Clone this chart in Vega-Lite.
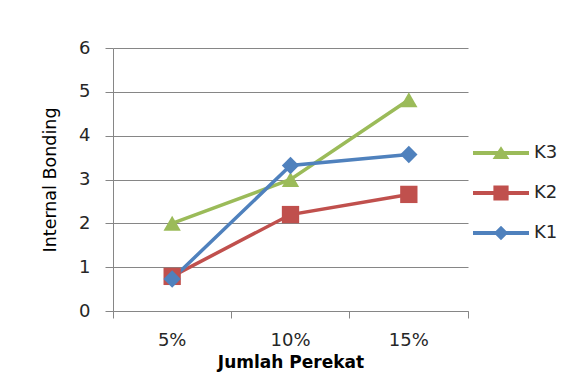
{
  "$schema": "https://vega.github.io/schema/vega-lite/v6.json",
  "width": 355,
  "height": 263,
  "autosize": {"type": "none"},
  "padding": {"left": 113, "top": 48, "right": 112, "bottom": 67},
  "background": "white",
  "config": {
    "view": {"stroke": null},
    "font": "DejaVu Sans",
    "axis": {
      "domainColor": "#868686",
      "tickColor": "#868686",
      "gridColor": "#868686",
      "labelColor": "#262626",
      "titleColor": "#000000",
      "labelFont": "DejaVu Sans",
      "titleFont": "DejaVu Sans"
    }
  },
  "data": {
    "values": [
      {"perekat": "5%", "seri": "K3", "ib": 2.0},
      {"perekat": "10%", "seri": "K3", "ib": 3.0},
      {"perekat": "15%", "seri": "K3", "ib": 4.82},
      {"perekat": "5%", "seri": "K2", "ib": 0.79},
      {"perekat": "10%", "seri": "K2", "ib": 2.2},
      {"perekat": "15%", "seri": "K2", "ib": 2.66},
      {"perekat": "5%", "seri": "K1", "ib": 0.73},
      {"perekat": "10%", "seri": "K1", "ib": 3.32},
      {"perekat": "15%", "seri": "K1", "ib": 3.57}
    ]
  },
  "encoding": {
    "x": {
      "field": "perekat",
      "type": "nominal",
      "sort": ["5%", "10%", "15%"],
      "bandPosition": 0.5,
      "scale": {"type": "band", "paddingInner": 0, "paddingOuter": 0}
    },
    "y": {
      "field": "ib",
      "type": "quantitative",
      "scale": {"domain": [0, 6], "nice": false, "zero": true},
      "axis": {
        "values": [0, 1, 2, 3, 4, 5, 6],
        "grid": true,
        "gridWidth": 1,
        "tickSize": 8,
        "labelPadding": 15,
        "labelFontSize": 18,
        "title": "Internal Bonding",
        "titleFontSize": 17.5,
        "titleFontWeight": "normal",
        "titlePadding": 19
      }
    },
    "color": {
      "field": "seri",
      "type": "nominal",
      "scale": {"domain": ["K3", "K2", "K1"], "range": ["#9BBB59", "#C0504D", "#4F81BD"]},
      "legend": null
    }
  },
  "layer": [
    {
      "mark": {"type": "line", "strokeWidth": 3.5},
      "encoding": {
        "x": {
          "field": "perekat",
          "type": "nominal",
          "sort": ["5%", "10%", "15%"],
          "bandPosition": 0.5,
          "scale": {"type": "band", "paddingInner": 0, "paddingOuter": 0},
          "axis": {
            "orient": "bottom",
            "ticks": false,
            "domain": true,
            "grid": false,
            "labelAngle": 0,
            "labelPadding": 20,
            "labelFontSize": 18,
            "title": "Jumlah Perekat",
            "titleFontSize": 17,
            "titleFontWeight": "bold",
            "titlePadding": 5
          }
        }
      }
    },
    {
      "mark": {"type": "point", "filled": true, "opacity": 1, "size": 300},
      "encoding": {
        "x": {
          "field": "perekat",
          "type": "nominal",
          "sort": ["5%", "10%", "15%"],
          "bandPosition": 0.5,
          "scale": {"type": "band", "paddingInner": 0, "paddingOuter": 0},
          "axis": {
            "orient": "bottom",
            "bandPosition": 1,
            "tickExtra": true,
            "ticks": true,
            "tickSize": 7,
            "labels": false,
            "domain": false,
            "grid": false,
            "title": null
          }
        },
        "shape": {
          "field": "seri",
          "type": "nominal",
          "scale": {"domain": ["K3", "K2", "K1"], "range": ["triangle-up", "square", "diamond"]},
          "legend": null
        }
      }
    },
    {
      "mark": {"type": "point", "filled": true, "opacity": 0, "size": 256},
      "encoding": {
        "x": {
          "field": "perekat",
          "type": "nominal",
          "sort": ["5%", "10%", "15%"],
          "bandPosition": 0.5,
          "scale": {"type": "band", "paddingInner": 0, "paddingOuter": 0},
          "axis": null
        },
        "color": {
          "field": "seri",
          "type": "nominal",
          "scale": {"domain": ["K3", "K2", "K1"], "range": ["#9BBB59", "#C0504D", "#4F81BD"]},
          "legend": {
            "orient": "none",
            "legendX": 379,
            "legendY": 96,
            "title": null,
            "padding": 0,
            "symbolSize": 256,
            "symbolOpacity": 1,
            "symbolStrokeWidth": 0,
            "labelFont": "DejaVu Sans",
            "labelFontSize": 18,
            "labelColor": "#262626",
            "labelOffset": 24,
            "rowPadding": 22
          }
        },
        "shape": {
          "field": "seri",
          "type": "nominal",
          "scale": {
            "domain": ["K3", "K2", "K1"],
            "range": [
              "M-3.5,-0.25H3.5V0.25H-3.5Z M0,-0.85L1.05,0.75H-1.05Z",
              "M-3.5,-0.25H3.5V0.25H-3.5Z M-0.95,-0.95H0.95V0.95H-0.95Z",
              "M-3.5,-0.25H3.5V0.25H-3.5Z M0,-0.9L0.9,0L0,0.9L-0.9,0Z"
            ]
          },
          "legend": {
            "orient": "none",
            "legendX": 379,
            "legendY": 96,
            "title": null,
            "padding": 0,
            "symbolSize": 256,
            "symbolOpacity": 1,
            "symbolStrokeWidth": 0,
            "labelFont": "DejaVu Sans",
            "labelFontSize": 18,
            "labelColor": "#262626",
            "labelOffset": 24,
            "rowPadding": 22
          }
        }
      }
    }
  ],
  "resolve": {
    "axis": {"x": "independent"},
    "scale": {"shape": "independent", "color": "independent"},
    "legend": {"shape": "independent", "color": "independent"}
  }
}
